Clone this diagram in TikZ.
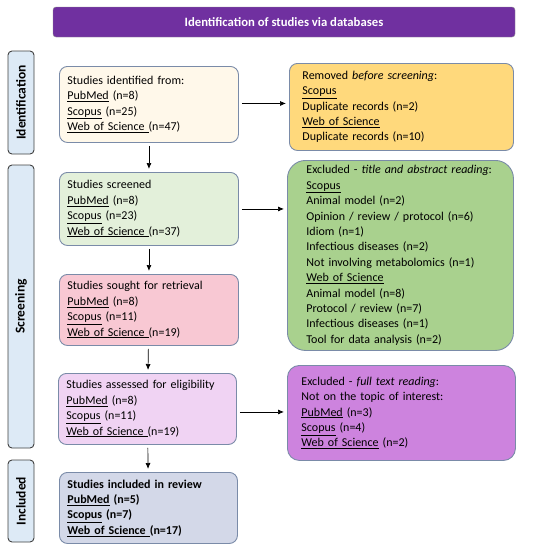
\documentclass[tikz,border=0pt]{standalone}
\usepackage{fontspec}
\setmainfont{Carlito}
\usetikzlibrary{arrows.meta, positioning, calc}

\definecolor{titlepurple}{HTML}{7030A0}
\definecolor{phasefill}{HTML}{DDEAF6}
\definecolor{boxline}{HTML}{7A8BA8}
\definecolor{identfill}{HTML}{FFF8EA}
\definecolor{removedfill}{HTML}{FFD97C}
\definecolor{screenfill}{HTML}{E3F0DA}
\definecolor{excltafill}{HTML}{A9D18E}
\definecolor{soughtfill}{HTML}{F8C8D3}
\definecolor{assessfill}{HTML}{F0D3F3}
\definecolor{exclftfill}{HTML}{CD83DE}
\definecolor{includefill}{HTML}{D3D8E8}

\newcommand{\db}[1]{\underline{#1}}

\begin{document}
\begin{tikzpicture}[
      x=1pt, y={(0,-1pt)},
      every node/.style={font=\fontsize{12}{15.4}\selectfont},
      box/.style={draw=boxline, line width=0.9pt, rounded corners=8pt, anchor=north west,
                  align=left, inner xsep=8pt, inner ysep=2pt},
      phase/.style={draw=black!75, line width=0.9pt, fill=phasefill, rounded corners=4pt,
                    rotate=90, minimum height=26pt, inner sep=0pt,
                    font=\fontsize{13.5}{15}\selectfont\bfseries},
      flow/.style={-{Latex[length=6pt,width=5pt]}, line width=0.7pt, shorten <=3pt, shorten >=3pt}
    ]
      \useasboundingbox (0,0) rectangle (540,550);

      % title bar
      \node[draw=black!45, fill=titlepurple, rounded corners=3pt, minimum width=462pt,
            minimum height=30pt, text=white, font=\fontsize{12.7}{15}\selectfont\bfseries]
            (title) at (284,22) {Identification of studies via databases};

      % phases
      \node[phase, minimum width=103pt] (phId) at (21,102.5) {Identification};
      \node[phase, minimum width=283pt] (phSc) at (21,306.5) {Screening};
      \node[phase, minimum width=82pt] (phIn) at (21,501) {Included};

      % left column
      \node[box, fill=identfill, text width=163pt, minimum height=76pt] (ident) at (59,66)
        {Studies identified from:\\ \db{PubMed} (n=8)\\ \db{Scopus} (n=25)\\ \db{Web of Science~}(n=47)};
      \node[box, fill=screenfill, text width=163pt, minimum height=73pt] (screen) at (59,172)
        {Studies screened\\ \db{PubMed} (n=8)\\ \db{Scopus} (n=23)\\ \db{Web of Science~}(n=37)};
      \node[box, fill=soughtfill, text width=163pt, minimum height=71pt] (sought) at (59,274)
        {Studies sought for retrieval\\ \db{PubMed} (n=8)\\ \db{Scopus} (n=11)\\ \db{Web of Science~}(n=19)};
      \node[box, fill=assessfill, text width=162pt, minimum height=71pt] (assess) at (58,373)
        {Studies assessed for eligibility\\ \db{PubMed} (n=8)\\ \db{Scopus} (n=11)\\ \db{Web of Science~}(n=19)};
      \node[box, fill=includefill, text width=162pt, minimum height=71pt,
            font=\fontsize{12}{15.4}\selectfont\bfseries] (incl) at (59,472)
        {Studies included in review\\ \db{PubMed} (n=5)\\ \db{Scopus} (n=7)\\ \db{Web of Science~}(n=17)};

      % right column
      \node[box, fill=removedfill, inner xsep=13pt, text width=198pt, minimum height=87pt] (removed) at (289,63)
        {Removed \emph{before screening}:\\ \db{Scopus}\\ Duplicate records (n=2)\\ \db{Web of Science}\\ Duplicate records (n=10)};
      \node[box, fill=excltafill, rounded corners=18pt, inner xsep=19pt, text width=188pt, minimum height=190pt] (exclTA) at (287,160)
        {Excluded - \emph{title and abstract reading}:\\ \db{Scopus}\\ Animal model (n=2)\\ Opinion / review / protocol (n=6)\\
         Idiom (n=1)\\ Infectious diseases (n=2)\\ Not involving metabolomics (n=1)\\ \db{Web of Science}\\
         Animal model (n=8)\\ Protocol / review (n=7)\\ Infectious diseases (n=1)\\ Tool for data analysis (n=2)};
      \node[box, fill=exclftfill, rounded corners=12pt, inner xsep=14pt, text width=200pt, minimum height=95pt] (exclFT) at (287,365)
        {Excluded - \emph{full text reading}:\\ Not on the topic of interest:\\ \db{PubMed} (n=3)\\ \db{Scopus} (n=4)\\ \db{Web of Science} (n=2)};

      % connectors
      \coordinate (outId) at ($(ident.east)+(0,-1)$);
      \coordinate (outAs) at ($(assess.east)+(0,3)$);
      \draw[flow] (ident) -- (screen);
      \draw[flow] (screen) -- (sought);
      \draw[flow] (sought) -- (assess);
      \draw[flow] (assess) -- (incl);
      \draw[flow] (outId) -- (outId -| removed.west);
      \draw[flow] (screen.east) -- (screen.east -| exclTA.west);
      \draw[flow] (outAs) -- (outAs -| exclFT.west);
    \end{tikzpicture}
\end{document}
